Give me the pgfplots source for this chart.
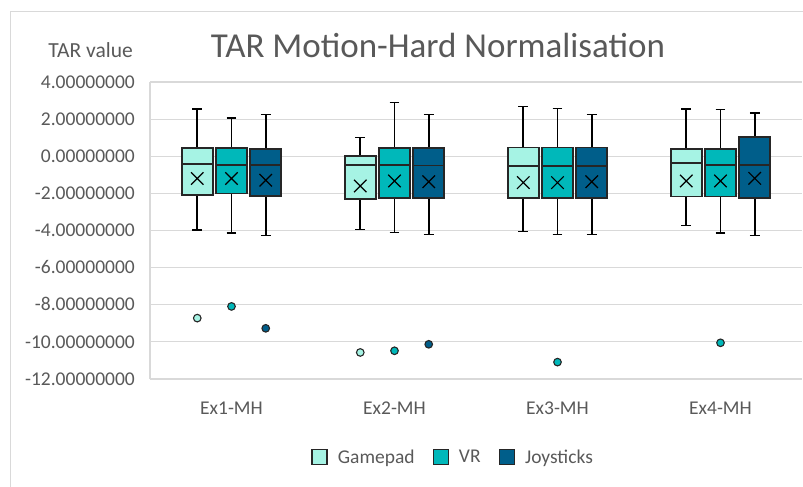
\documentclass[border=0pt]{standalone}
\usepackage{pgfplots}
\pgfplotsset{compat=1.18}
\usepgfplotslibrary{statistics}
\usepackage{fontspec}
\setmainfont{Carlito}
\definecolor{gp}{HTML}{A6F3E4}
\definecolor{vr}{HTML}{00B8BA}
\definecolor{js}{HTML}{005E8A}
\definecolor{gridc}{HTML}{D9D9D9}
\definecolor{txt}{HTML}{595959}
\definecolor{edge}{HTML}{262626}
\newcommand{\bx}[7]{%
\addplot[forget plot, fill=#7, draw=edge, line width=1.8bp,
  boxplot prepared={draw direction=y, draw position=#1, lower whisker=#2, lower quartile=#3,
    median=#4, upper quartile=#5, upper whisker=#6,
    box extend=0.19, whisker extend=0.06,
    every whisker/.style={draw=black, line width=1.6bp}}]
  coordinates {};}
\begin{document}
\begin{tikzpicture}
\useasboundingbox (0bp,0bp) rectangle (803bp,487bp);
\draw[gridc, line width=1bp] (10bp,0bp) -- (10bp,475.5bp) -- (803bp,475.5bp);
\node[anchor=base, text=txt, font=\fontsize{35bp}{40bp}\selectfont] at (438bp,429bp) {TAR Motion-Hard Normalisation};
\node[anchor=base east, inner sep=0pt, text=txt, font=\fontsize{21.5bp}{25bp}\selectfont] at (133bp,429.7bp) {TAR value};
\begin{axis}[
  at={(150bp,108bp)}, anchor=south west, scale only axis,
  width=652bp, height=297bp,
  xmin=-0.5, xmax=3.5, ymin=-12, ymax=4,
  xtick={0,1,2,3}, xticklabels={Ex1-MH,Ex2-MH,Ex3-MH,Ex4-MH},
  ytick={-12,-10,-8,-6,-4,-2,0,2,4},
  yticklabels={-12.00000000,-10.00000000,-8.00000000,-6.00000000,-4.00000000,-2.00000000,0.00000000,2.00000000,4.00000000},
  major tick length=0pt,
  axis y line*=left, axis x line*=bottom,
  axis line style={draw=gridc, line width=1.2bp, -},
  ymajorgrids, grid style={draw=gridc, line width=1.2bp},
  tick label style={text=txt, font=\fontsize{19.5bp}{23bp}\selectfont, inner sep=0pt},
  yticklabel style={anchor=base east, xshift=-15bp, yshift=-6.2bp},
  xticklabel style={anchor=base, yshift=-35bp},
  clip=false,
  legend style={draw=none, fill=none, at={(0.465,-0.263)}, anchor=center,
    legend columns=3, text=txt, font=\fontsize{19.5bp}{23bp}\selectfont,
    /tikz/every odd column/.style={column sep=8bp},
    /tikz/every even column/.style={column sep=16bp}},
  legend image code/.code={\draw[#1] (0bp,-7.5bp) rectangle (15bp,7.5bp);},
]
\addlegendimage{fill=gp, draw=edge, line width=1.4bp}
\addlegendentry{Gamepad}
\addlegendimage{fill=vr, draw=edge, line width=1.4bp}
\addlegendentry{VR}
\addlegendimage{fill=js, draw=edge, line width=1.4bp}
\addlegendentry{Joysticks}
% Ex1
\bx{-0.21}{-3.97}{-2.10}{-0.41}{0.43}{2.53}{gp}
\bx{0.00}{-4.15}{-2.01}{-0.47}{0.43}{2.05}{vr}
\bx{0.21}{-4.26}{-2.14}{-0.49}{0.39}{2.25}{js}
% Ex2
\bx{0.79}{-3.94}{-2.32}{-0.47}{0.00}{1.01}{gp}
\bx{1.00}{-4.11}{-2.23}{-0.47}{0.43}{2.89}{vr}
\bx{1.21}{-4.22}{-2.23}{-0.50}{0.45}{2.25}{js}
% Ex3
\bx{1.79}{-4.06}{-2.23}{-0.52}{0.47}{2.68}{gp}
\bx{2.00}{-4.22}{-2.23}{-0.52}{0.47}{2.57}{vr}
\bx{2.21}{-4.22}{-2.23}{-0.52}{0.47}{2.25}{js}
% Ex4
\bx{2.79}{-3.74}{-2.17}{-0.38}{0.41}{2.53}{gp}
\bx{3.00}{-4.15}{-2.17}{-0.47}{0.41}{2.52}{vr}
\bx{3.21}{-4.26}{-2.23}{-0.49}{1.04}{2.32}{js}
% means
\addplot[forget plot, only marks, mark=x, mark size=8.8bp, mark options={draw=black, line width=1.2bp}]
  coordinates {(-0.21,-1.20) (0,-1.20) (0.21,-1.29)
               (0.79,-1.60) (1,-1.33) (1.21,-1.37)
               (1.79,-1.42) (2,-1.42) (2.21,-1.37)
               (2.79,-1.33) (3,-1.33) (3.21,-1.19)};
% outliers
\addplot[forget plot, only marks, mark=*, mark size=3.8bp, mark options={fill=gp, draw=edge, line width=1.1bp}]
  coordinates {(-0.21,-8.72) (0.79,-10.57)};
\addplot[forget plot, only marks, mark=*, mark size=3.8bp, mark options={fill=vr, draw=edge, line width=1.1bp}]
  coordinates {(0,-8.09) (1,-10.48) (2,-11.09) (3,-10.05)};
\addplot[forget plot, only marks, mark=*, mark size=3.8bp, mark options={fill=js, draw=edge, line width=1.1bp}]
  coordinates {(0.21,-9.27) (1.21,-10.13)};
\end{axis}
\end{tikzpicture}
\end{document}
